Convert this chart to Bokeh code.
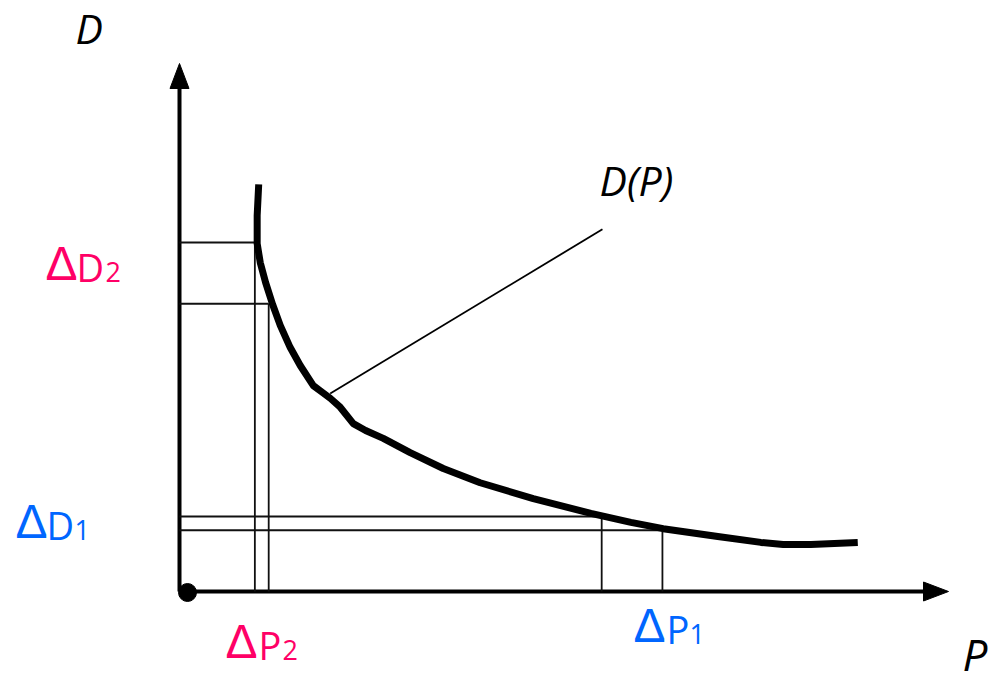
from bokeh.plotting import figure
from bokeh.models import Range1d, Label
from bokeh.embed import file_html
from bokeh.resources import INLINE

# ---------------- data (chart units: P horizontal, D vertical, axis tips at 10) ----------------
P_curve = [1.03, 1.01, 1.01, 1.05, 1.12, 1.21, 1.31, 1.44, 1.57, 1.74, 1.86, 1.96, 2.09,
           2.26, 2.42, 2.65, 3.00, 3.43, 3.91, 4.60, 5.35, 5.87, 6.29, 7.00, 7.56, 7.85,
           8.21, 8.82]
D_curve = [7.71, 7.12, 6.59, 6.23, 5.85, 5.44, 5.04, 4.62, 4.28, 3.90, 3.77, 3.66, 3.49,
           3.18, 3.05, 2.90, 2.63, 2.33, 2.06, 1.76, 1.48, 1.31, 1.19, 1.04, 0.93, 0.89,
           0.89, 0.93]

P_levels_2 = [0.98, 1.16]   # ΔP2 bounds
D_levels_2 = [6.61, 5.45]   # ΔD2 bounds
P_levels_1 = [5.49, 6.28]   # ΔP1 bounds
D_levels_1 = [1.42, 1.16]   # ΔD1 bounds

leader_P = [1.96, 5.50]
leader_D = [3.75, 6.86]

AXIS_MAX = 10

# ---------------- layout (screen pixels of the 996x684 window) ----------------
X0, Y0 = 179.0, 591.0          # origin on screen
SX = (948.0 - X0) / AXIS_MAX   # px per P unit
SY = (Y0 - 63.0) / AXIS_MAX    # px per D unit
W, H = 996, 684
M = 0


def px2P(x):
    return (x - X0) / SX


def px2D(y):
    return (Y0 - y) / SY


p = figure(width=W, height=H, output_backend="svg", toolbar_location=None,
           x_range=Range1d(px2P(M), px2P(M + W)), y_range=Range1d(px2D(M + H), px2D(M)),
           min_border=0, background_fill_color="white", border_fill_color="white")
p.axis.visible = False
p.grid.visible = False
p.outline_line_color = None

# axes with arrowheads
head_len, head_half = 25.0, 9.5
p.line([0, 0], [0, AXIS_MAX - head_len / SY], line_color="black", line_width=4)
p.line([0, AXIS_MAX - head_len / SX], [0, 0], line_color="black", line_width=4)
p.patch([-head_half / SX, head_half / SX, 0],
        [AXIS_MAX - head_len / SY, AXIS_MAX - head_len / SY, AXIS_MAX],
        fill_color="black", line_color="black", line_width=1)
p.patch([AXIS_MAX - head_len / SX, AXIS_MAX - head_len / SX, AXIS_MAX],
        [head_half / SY, -head_half / SY, 0],
        fill_color="black", line_color="black", line_width=1)

# guide lines
P_all = P_levels_2 + P_levels_1
D_all = D_levels_2 + D_levels_1
zeros = [0] * len(P_all)
p.segment(x0=zeros, y0=D_all, x1=P_all, y1=D_all, line_color="#111111", line_width=1.8)
p.segment(x0=P_all, y0=D_all, x1=P_all, y1=zeros, line_color="#111111", line_width=1.8)

# leader line
p.line(leader_P, leader_D, line_color="black", line_width=1.8)

# demand curve
p.line(P_curve, D_curve, line_color="black", line_width=7, line_join="round", line_cap="butt")

# origin dot
p.scatter([px2P(X0 + 8)], [px2D(Y0 + 1)], marker="circle", size=18,
          fill_color="black", line_color="black")

PINK = "#FF0066"
BLUE = "#0066FF"
FONT = "Open Sans"
BASE_SHIFT = 0.4   # empirical: glyph baseline sits this many em below the anchor


def label(xpx, ypx, text, size, color, style="normal", font=FONT):
    p.add_layout(Label(x=px2P(xpx), y=px2D(ypx - BASE_SHIFT * size), text=text,
                       text_font=font, text_font_size=f"{size}px", text_color=color,
                       text_font_style=style, text_align="left",
                       text_baseline="alphabetic"))


def delta_label(x_delta, x_letter, x_sub, base, letter, sub, color):
    label(x_delta - 1, base, "Δ", 48, color, font="Liberation Sans")
    label(x_letter - 4, base, letter, 38, color)
    label(x_sub - 2, base, sub, 27, color)


delta_label(46, 80, 107, 282, "D", "2", PINK)
delta_label(16, 50, 76, 540, "D", "1", BLUE)
delta_label(226, 262, 284, 660, "P", "2", PINK)
delta_label(634, 670, 691, 644, "P", "1", BLUE)

label(75, 44, "D", 41, "black", "italic")
label(962, 671, "P", 44, "black", "italic")
label(599, 196, "D(P)", 41, "black", "italic")

open("out.html", "w").write(file_html(p, INLINE))
